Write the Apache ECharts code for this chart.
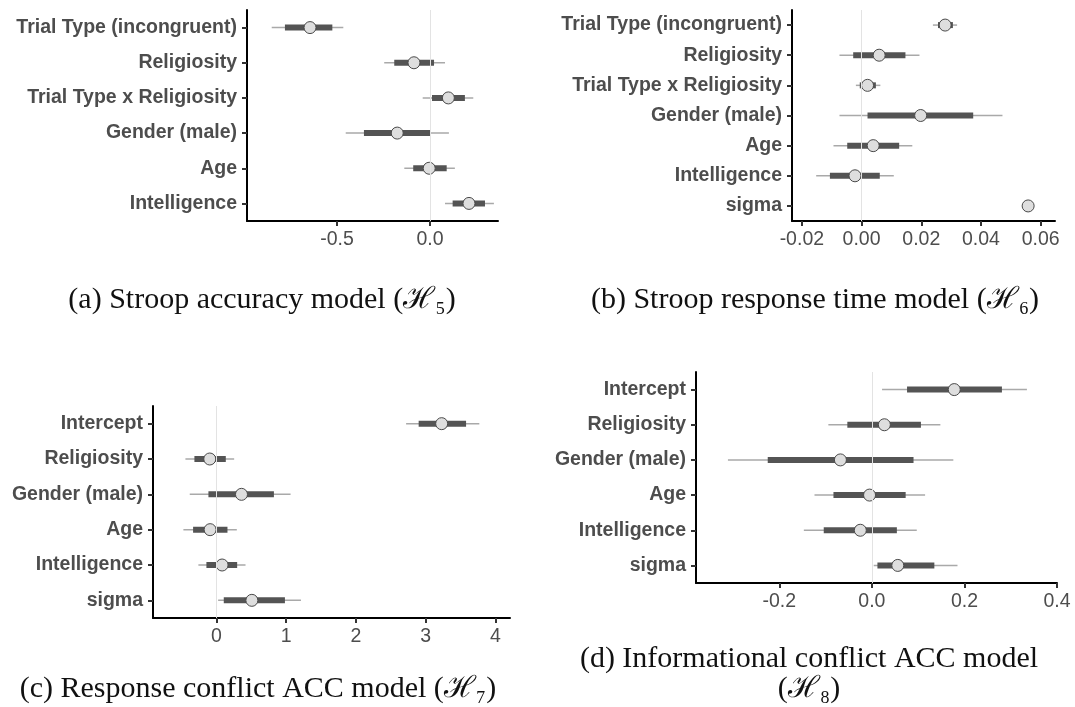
<!DOCTYPE html>
<html>
<head>
<meta charset="utf-8">
<script src="https://cdn.jsdelivr.net/npm/echarts@6/dist/echarts.min.js"></script>
<style>
html,body{margin:0;padding:0;background:#fff;}
#main{width:1075px;height:707px;}
</style>
</head>
<body>
<div id="main"></div>
<script>
// ---------- Data ----------
// Panel (a) Stroop accuracy model
const labelsA = ['Trial Type (incongruent)', 'Religiosity', 'Trial Type x Religiosity', 'Gender (male)', 'Age', 'Intelligence'];
const estA      = [-0.645, -0.086, 0.099, -0.176, -0.004, 0.210];
const innerLoA  = [-0.780, -0.192, 0.011, -0.355, -0.090, 0.122];
const innerHiA  = [-0.525,  0.022, 0.188,  0.004,  0.090, 0.296];
const outerLoA  = [-0.851, -0.246, -0.039, -0.453, -0.138, 0.081];
const outerHiA  = [-0.466,  0.081, 0.233,  0.102,  0.134, 0.344];
const ticksA = [-0.5, 0.0];

// Panel (b) Stroop response time model
const labelsB = ['Trial Type (incongruent)', 'Religiosity', 'Trial Type x Religiosity', 'Gender (male)', 'Age', 'Intelligence', 'sigma'];
const estB      = [0.0280, 0.0059, 0.0020, 0.0198, 0.0039, -0.0022, 0.0558];
const innerLoB  = [0.0256, -0.0028, -0.0006, 0.0020, -0.0048, -0.0106, 0.0555];
const innerHiB  = [0.0306, 0.0147, 0.0048, 0.0374, 0.0126, 0.0061, 0.0561];
const outerLoB  = [0.0239, -0.0074, -0.0019, -0.0074, -0.0094, -0.0152, 0.0552];
const outerHiB  = [0.0320, 0.0194, 0.0063, 0.0472, 0.0170, 0.0108, 0.0564];
const ticksB = [-0.02, 0.00, 0.02, 0.04, 0.06];

// Panel (c) Response conflict ACC model
const labelsC = ['Intercept', 'Religiosity', 'Gender (male)', 'Age', 'Intelligence', 'sigma'];
const estC      = [3.23, -0.096, 0.359, -0.091, 0.081, 0.508];
const innerLoC  = [2.90, -0.316, -0.115, -0.335, -0.144, 0.105];
const innerHiC  = [3.58, 0.134, 0.824, 0.158, 0.297, 0.982];
const outerLoC  = [2.72, -0.445, -0.383, -0.474, -0.259, 0.024];
const outerHiC  = [3.77, 0.254, 1.063, 0.292, 0.417, 1.212];
const ticksC = [0, 1, 2, 3, 4];

// Panel (d) Informational conflict ACC model
const labelsD = ['Intercept', 'Religiosity', 'Gender (male)', 'Age', 'Intelligence', 'sigma'];
const estD      = [0.178, 0.027, -0.068, -0.005, -0.025, 0.056];
const innerLoD  = [0.076, -0.053, -0.225, -0.083, -0.104, 0.012];
const innerHiD  = [0.281, 0.106, 0.090, 0.073, 0.054, 0.135];
const outerLoD  = [0.022, -0.094, -0.311, -0.124, -0.147, 0.004];
const outerHiD  = [0.335, 0.148, 0.176, 0.115, 0.097, 0.185];
const ticksD = [-0.2, 0.0, 0.2, 0.4];

// Captions
const captionA = '(a) Stroop accuracy model (ℋ₅)';
const captionB = '(b) Stroop response time model (ℋ₆)';
const captionC = '(c) Response conflict ACC model (ℋ₇)';
const captionD1 = '(d) Informational conflict ACC model';
const captionD2 = '(ℋ₈)';

// ---------- Build ----------
const chart = echarts.init(document.getElementById('main'), null, {renderer: 'canvas'});

const panels = [
  {labels: labelsA, est: estA, il: innerLoA, ih: innerHiA, ol: outerLoA, oh: outerHiA, ticks: ticksA, dec: 1,
   min: -0.984, max: 0.366, grid: {left: 247, right: 1075 - 498, top: 10, bottom: 707 - 221}},
  {labels: labelsB, est: estB, il: innerLoB, ih: innerHiB, ol: outerLoB, oh: outerHiB, ticks: ticksB, dec: 2,
   min: -0.0233, max: 0.0648, grid: {left: 792, right: 1075 - 1055, top: 10, bottom: 707 - 221}},
  {labels: labelsC, est: estC, il: innerLoC, ih: innerHiC, ol: outerLoC, oh: outerHiC, ticks: ticksC, dec: 0,
   min: -0.91, max: 4.21, grid: {left: 153, right: 1075 - 510, top: 406, bottom: 707 - 618}},
  {labels: labelsD, est: estD, il: innerLoD, ih: innerHiD, ol: outerLoD, oh: outerHiD, ticks: ticksD, dec: 1,
   min: -0.380, max: 0.4, grid: {left: 696, right: 1075 - 1057, top: 372, bottom: 707 - 583}}
];

const FONT = '"Liberation Sans", Arial, sans-serif';
const grids = [], xAxes = [], yAxes = [], series = [];

function renderItem(params, api) {
  const idx = api.value(0);
  const p  = api.coord([api.value(1), idx]);
  const il = api.coord([api.value(2), idx]);
  const ih = api.coord([api.value(3), idx]);
  const ol = api.coord([api.value(4), idx]);
  const oh = api.coord([api.value(5), idx]);
  return {
    type: 'group',
    children: [
      {type: 'line', shape: {x1: ol[0], y1: p[1], x2: oh[0], y2: p[1]},
       style: {stroke: '#a9a9a9', lineWidth: 1.5}},
      {type: 'line', shape: {x1: il[0], y1: p[1], x2: ih[0], y2: p[1]},
       style: {stroke: '#545454', lineWidth: 6}},
      {type: 'circle', shape: {cx: p[0], cy: p[1], r: 6},
       style: {fill: '#dedede', stroke: '#4a4a4a', lineWidth: 1}}
    ]
  };
}

panels.forEach((pn, i) => {
  grids.push(Object.assign({containLabel: false}, pn.grid));
  xAxes.push({
    type: 'value', gridIndex: i, min: pn.min, max: pn.max,
    splitLine: {show: false},
    axisLine: {show: true, onZero: false, lineStyle: {color: '#000', width: 2}},
    axisTick: {show: true, length: 5, customValues: pn.ticks, lineStyle: {color: '#333', width: 2}},
    axisLabel: {show: true, customValues: pn.ticks, color: '#4d4d4d', fontSize: 19.5, fontFamily: FONT, margin: 9,
      formatter: (v) => Number(v).toFixed(pn.dec)}
  });
  yAxes.push({
    type: 'category', gridIndex: i, data: pn.labels, inverse: true,
    axisLine: {show: true, onZero: false, lineStyle: {color: '#000', width: 2}},
    axisTick: {show: true, alignWithLabel: true, length: 5, lineStyle: {color: '#333', width: 2}},
    axisLabel: {color: '#4d4d4d', fontSize: 19.5, fontWeight: 'bold', fontFamily: FONT, margin: 10},
    splitLine: {show: false}
  });
  // zero reference line
  series.push({
    type: 'line', xAxisIndex: i, yAxisIndex: i, data: [], z: 1, silent: true,
    markLine: {silent: true, symbol: 'none', animation: false, label: {show: false},
      lineStyle: {color: '#e3e3e3', width: 1, type: 'solid'},
      data: [{xAxis: 0}]}
  });
  series.push({
    type: 'custom', xAxisIndex: i, yAxisIndex: i, z: 3, animation: false,
    renderItem: renderItem,
    encode: {x: [1, 2, 3, 4, 5], y: 0},
    data: pn.labels.map((_, k) => [k, pn.est[k], pn.il[k], pn.ih[k], pn.ol[k], pn.oh[k]])
  });
});

const CAP_FONT = '"Liberation Serif", "DejaVu Serif", serif';
function cap(text, x, y) {
  return {type: 'text', x: x, y: y, style: {text: text, fill: '#111', font: '30px ' + CAP_FONT,
    textAlign: 'center', textVerticalAlign: 'middle'}};
}

chart.setOption({
  backgroundColor: '#fff',
  animation: false,
  grid: grids, xAxis: xAxes, yAxis: yAxes, series: series,
  graphic: [
    cap(captionA, 262, 300),
    cap(captionB, 815, 300),
    cap(captionC, 258, 689),
    cap(captionD1, 809, 659),
    cap(captionD2, 809, 689)
  ]
});
</script>
</body>
</html>
